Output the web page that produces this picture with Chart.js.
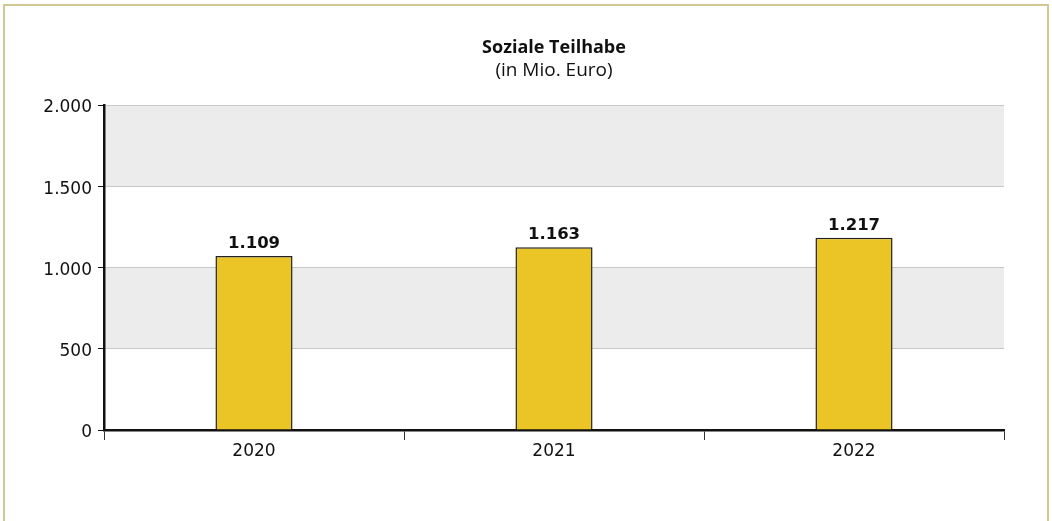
<!DOCTYPE html>
<html lang="de">
<head>
<meta charset="utf-8">
<title>Soziale Teilhabe</title>
<script src="https://cdn.jsdelivr.net/npm/chart.js@4.4.1/dist/chart.umd.min.js"></script>
<style>
    html, body { margin: 0; padding: 0; background: #fff; }
    #wrap { position: relative; width: 1052px; height: 521px; overflow: hidden; }
    #frame {
        position: absolute; left: 3px; top: 4px; width: 1042px; height: 600px;
        border: 2px solid #d2c894; pointer-events: none;
    }
    canvas { position: absolute; left: 0; top: 0; }
</style>
</head>
<body>
<div id="wrap">
    <canvas id="chart" width="1052" height="521"></canvas>
    <div id="frame"></div>
</div>
<script>
// Daten
var years = ['2020', '2021', '2022'];
var values = [1071, 1124, 1183];            // Balkenhöhe
var valueLabels = ['1.109', '1.163', '1.217']; // Beschriftung über den Balken
var yTicks = [0, 500, 1000, 1500, 2000];
var bands = [[500, 1000], [1500, 2000]];     // grau hinterlegte Bereiche
var titleText = 'Soziale Teilhabe';
var subtitleText = '(in Mio. Euro)';

function fmt(v) {
    return String(v).replace(/\B(?=(\d{3})+(?!\d))/g, '.');
}

var bandPlugin = {
    id: 'bands',
    beforeDraw: function (chart) {
        var ctx = chart.ctx, a = chart.chartArea, y = chart.scales.y;
        ctx.save();
        ctx.fillStyle = '#ebeceb';
        bands.forEach(function (b) {
            var top = y.getPixelForValue(b[1]);
            var bottom = y.getPixelForValue(b[0]);
            ctx.fillRect(a.left, top, a.right - a.left, bottom - top);
        });
        ctx.restore();
    }
};

// Titel über der Mitte der Zeichenfläche
var titlePlugin = {
    id: 'centerTitle',
    afterDraw: function (chart) {
        var ctx = chart.ctx, a = chart.chartArea;
        var cx = (a.left + a.right) / 2;
        ctx.save();
        ctx.fillStyle = '#111';
        ctx.textAlign = 'center';
        ctx.textBaseline = 'alphabetic';
        ctx.font = 'bold 18px "Open Sans"';
        ctx.fillText(titleText, cx, 53);
        ctx.font = '19px "Open Sans"';
        ctx.fillText(subtitleText, cx, 75.5);
        ctx.restore();
    }
};

var labelPlugin = {
    id: 'barLabels',
    afterDatasetsDraw: function (chart) {
        var ctx = chart.ctx;
        var meta = chart.getDatasetMeta(0);
        ctx.save();
        ctx.font = 'bold 16.5px "DejaVu Sans"';
        ctx.fillStyle = '#111';
        ctx.textAlign = 'center';
        ctx.textBaseline = 'alphabetic';
        meta.data.forEach(function (bar, i) {
            ctx.fillText(valueLabels[i], bar.x, bar.y - 8);
        });
        ctx.restore();
    }
};

var canvas = document.getElementById('chart');
var ctx = canvas.getContext('2d');
new Chart(ctx, {
    type: 'bar',
    data: {
        labels: years,
        datasets: [{
            label: 'Soziale Teilhabe',
            data: values,
            backgroundColor: '#ebc526',
            borderColor: '#222',
            borderWidth: 1.5,
            barPercentage: 0.257,
            categoryPercentage: 1
        }]
    },
    options: {
        responsive: false,
        animation: false,
        devicePixelRatio: 1,
        layout: { padding: { left: 0, right: 48, top: 105, bottom: 51 } },
        plugins: {
            legend: { display: false },
            tooltip: { enabled: false },
            title: { display: false }
        },
        scales: {
            x: {
                afterFit: function (s) { s.height = 40; },
                grid: {
                    offset: true,
                    drawOnChartArea: false,
                    drawTicks: true,
                    tickLength: 10,
                    color: '#333',
                    lineWidth: 1
                },
                border: { color: '#111', width: 2.5 },
                ticks: {
                    color: '#111',
                    padding: 1,
                    font: { family: '"DejaVu Sans"', size: 17 }
                }
            },
            y: {
                min: 0,
                max: 2000,
                afterFit: function (s) { s.width = 104; },
                afterBuildTicks: function (s) {
                    s.ticks = yTicks.map(function (v) { return { value: v }; });
                },
                grid: {
                    color: '#c8c8c8',
                    tickColor: '#111',
                    tickLength: 6,
                    lineWidth: 1
                },
                border: { color: '#111', width: 2.5 },
                ticks: {
                    color: '#111',
                    padding: 6,
                    labelOffset: 3,
                    font: { family: '"DejaVu Sans"', size: 17 },
                    callback: function (v) { return fmt(v); }
                }
            }
        }
    },
    plugins: [bandPlugin, labelPlugin, titlePlugin]
});
</script>
</body>
</html>
